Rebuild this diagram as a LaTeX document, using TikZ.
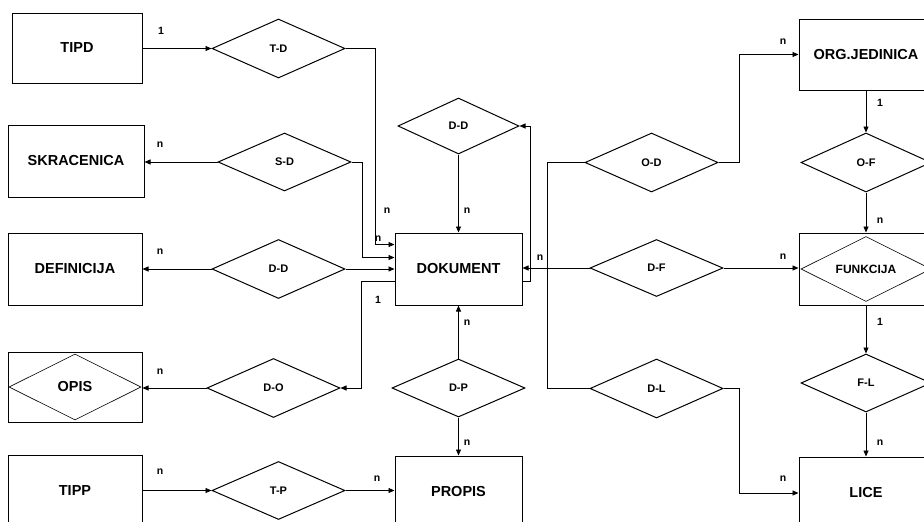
\documentclass[tikz,border=0pt]{standalone}
\usepackage{fontspec}
\setmainfont{Liberation Sans}
\usetikzlibrary{shapes.geometric,arrows.meta}
\begin{document}
\begin{tikzpicture}[x=1pt,y=-1pt,
  entity/.style={draw,line width=1pt,minimum height=72pt,minimum width=134pt,inner sep=0pt,
    font=\fontsize{14.5}{16}\selectfont\bfseries},
  rel/.style={draw,diamond,line width=1pt,minimum width=133pt,minimum height=58pt,inner sep=0pt,
    font=\fontsize{11}{13}\selectfont\bfseries},
  weakmark/.style={draw,diamond,line width=0.6pt,inner sep=0pt},
  link/.style={line width=0.8pt},
  arr/.style={link,-{Triangle[length=6pt,width=5pt]}},
  card/.style={font=\fontsize{10.5}{12}\selectfont\bfseries,inner sep=0pt}]
\useasboundingbox (0,0) rectangle (924,522);

% entities, left column
\node[entity,minimum width=130pt,minimum height=70pt] (tipd) at (77,48) {TIPD};
\node[entity,minimum width=136pt] (skr) at (76,161) {SKRACENICA};
\node[entity] (def) at (75,269) {DEFINICIJA};
\node[entity,minimum height=70pt] (opis) at (75,387) {};
\node[weakmark,minimum width=132pt,minimum height=66pt] (opisd) at (opis) {};
\node[font=\fontsize{14.5}{16}\selectfont\bfseries] (opist) at (opis) {OPIS};
\node[entity] (tipp) at (75,491) {TIPP};

% entities, middle column
\node[entity,minimum width=127pt] (dok) at (458.5,269) {DOKUMENT};
\node[entity,minimum width=127pt] (propis) at (458.5,492) {PROPIS};

% entities, right column
\node[entity,minimum height=71pt] (org) at (866,54.5) {ORG.JEDINICA};
\node[entity] (fun) at (866,269) {};
\node[weakmark,minimum width=130pt,minimum height=65pt] (fund) at (fun) {};
\node[font=\fontsize{12}{14}\selectfont\bfseries] (funt) at (fun) {FUNKCIJA};
\node[entity] (lice) at (866,493) {LICE};

% relationships
\node[rel,minimum height=59pt] (td) at (278.5,48.5) {T-D};
\node[rel] (sd) at (284.5,162) {S-D};
\node[rel,minimum height=59pt] (dd2) at (278.5,269) {D-D};
\node[rel,minimum height=59pt] (do) at (273.5,388) {D-O};
\node[rel] (tp) at (278.5,490.5) {T-P};
\node[rel,minimum width=121pt,minimum height=56pt] (ddtop) at (458.5,126) {D-D};
\node[rel] (dp) at (458.5,388) {D-P};
\node[rel,minimum height=59pt] (od) at (651.5,162.5) {O-D};
\node[rel,minimum height=57pt] (df) at (656.5,268) {D-F};
\node[rel,minimum height=59pt] (dl) at (656.5,388.5) {D-L};
\node[rel,minimum width=130pt,minimum height=59pt] (of) at (866,162.5) {O-F};
\node[rel,minimum width=130pt] (fl) at (866,383) {F-L};

% connectors, left side
\draw[arr] (tipd.east |- td.west) -- (td.west);
\draw[arr] (td.east) -- ++(30,0) |- ([yshift=-12pt]dok.north west);
\draw[arr] (sd.west) -- (sd.west -| skr.east);
\draw[arr] (sd.east) -- ++(11,0) |- ([yshift=-25pt]dok.north west);
\draw[arr] (dd2.west) -- (dd2.west -| def.east);
\draw[arr] (dd2.east) -- (dd2.east -| dok.west);
\draw[arr] ([yshift=-12pt]dok.west) -- ++(-33,0) |- (do.east);
\draw[arr] (do.west) -- (do.west -| opis.east);
\draw[arr] (tipp.east |- tp.west) -- (tp.west);
\draw[arr] (tp.east) -- (tp.east -| propis.west);

% connectors, middle
\draw[arr] (ddtop.south) -- (dok.north);
\draw[arr] ([yshift=-12pt]dok.east) -- ++(8,0) |- (ddtop.east);
\draw[arr] (dp.north) -- (dok.south);
\draw[arr] (dp.south) -- (propis.north);

% connectors, right side
\draw[arr] (df.west) -- (df.west -| dok.east);
\draw[arr] (df.east) -- (df.east -| fun.west);
\draw[link] (od.west) -- ++(-37,0) |- (dl.west);
\draw[arr] (od.east) -- ++(21,0) |- (org.west);
\draw[arr] (dl.east) -- ++(16,0) |- (lice.west);
\draw[arr] (org.south) -- (of.north);
\draw[arr] (of.south) -- (fun.north);
\draw[arr] (fun.south) -- (fl.north);
\draw[arr] (fl.south) -- (lice.north);

% cardinalities
\node[card] (c1) at (161,31) {1};
\node[card] (c2) at (160,145) {n};
\node[card] (c3) at (160,252) {n};
\node[card] (c4) at (160,372) {n};
\node[card] (c5) at (160,472) {n};
\node[card] (c6) at (387,211) {n};
\node[card] (c7) at (378,239) {n};
\node[card] (c8) at (378,300) {1};
\node[card] (c9) at (377,479) {n};
\node[card] (c10) at (467,211) {n};
\node[card] (c11) at (467,323) {n};
\node[card] (c12) at (467,443) {n};
\node[card] (c13) at (540,258) {n};
\node[card] (c14) at (783,42) {n};
\node[card] (c15) at (783,257) {n};
\node[card] (c16) at (783,479) {n};
\node[card] (c17) at (880,103) {1};
\node[card] (c18) at (880,221) {n};
\node[card] (c19) at (880,322) {1};
\node[card] (c20) at (880,443) {n};
\end{tikzpicture}
\end{document}
